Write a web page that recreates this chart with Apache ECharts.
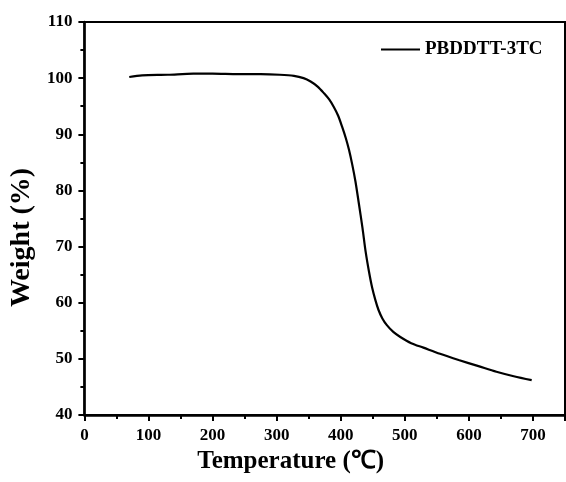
<!DOCTYPE html>
<html>
<head>
<meta charset="utf-8">
<script src="https://cdn.jsdelivr.net/npm/echarts@6/dist/echarts.min.js"></script>
<style>
  html, body { margin: 0; padding: 0; background: #fff; }
  #main { width: 566px; height: 482px; }
</style>
</head>
<body>
<div id="main"></div>
<script>
  // TGA curve
  var temperature = [70, 90, 130, 170, 200, 240, 275, 305, 327, 342, 353, 364, 374, 382, 389, 396, 402, 408, 413, 418, 423, 428, 434, 439, 444, 449, 454, 459, 465, 472, 482, 493, 510, 529, 555, 584, 615, 643, 670, 698];
  var weight = [100.2, 100.5, 100.6, 100.8, 100.8, 100.7, 100.7, 100.6, 100.4, 100.0, 99.4, 98.5, 97.3, 96.2, 94.9, 93.3, 91.4, 89.3, 87.2, 84.6, 81.6, 77.9, 73.3, 69.0, 65.6, 62.7, 60.5, 58.7, 57.2, 56.0, 54.8, 53.9, 52.8, 52.0, 50.9, 49.8, 48.7, 47.7, 46.9, 46.2];
  var seriesName = 'PBDDTT-3TC';

  var points = [];
  for (var i = 0; i < temperature.length; i++) {
    points.push([temperature[i], weight[i]]);
  }

  var chart = echarts.init(document.getElementById('main'));
  var font = '"Liberation Serif", "Times New Roman", serif';

  var option = {
    backgroundColor: '#fff',
    animation: false,
    textStyle: { fontFamily: font },
    grid: {
      left: 83, top: 22, right: 1, bottom: 67,
      show: true, borderColor: '#000', borderWidth: 2
    },
    legend: {
      left: 376, top: 35,
      itemWidth: 39, itemHeight: 14, itemGap: 0,
      textStyle: { fontFamily: font, fontWeight: 'bold', fontSize: 19, color: '#000' },
      data: [{ name: seriesName, icon: 'path://M0,6L40,6L40,8L0,8Z' }]
    },
    xAxis: {
      type: 'value', min: 0, max: 750, interval: 100,
      name: 'Temperature (℃)', nameLocation: 'middle', nameGap: 33,
      nameTextStyle: { fontFamily: font, fontWeight: 'bold', fontSize: 25, color: '#000', padding: [0, 68, 0, 0] },
      axisLine: { lineStyle: { color: '#000', width: 2.5 } },
      axisTick: { inside: false, length: 6, lineStyle: { color: '#000', width: 2 } },
      minorTick: { show: true, splitNumber: 2, length: 4, lineStyle: { color: '#000', width: 2 } },
      axisLabel: { fontFamily: font, fontWeight: 'bold', fontSize: 17, color: '#000', margin: 12, showMaxLabel: false },
      splitLine: { show: false }
    },
    yAxis: {
      type: 'value', min: 40, max: 110, interval: 10,
      name: 'Weight (%)', nameLocation: 'middle', nameGap: 42,
      nameTextStyle: { fontFamily: font, fontWeight: 'bold', fontSize: 28, color: '#000', padding: [0, 38, 0, 0] },
      axisLine: { lineStyle: { color: '#000', width: 2.5 } },
      axisTick: { inside: false, length: 6, lineStyle: { color: '#000', width: 2 } },
      minorTick: { show: true, splitNumber: 2, length: 4, lineStyle: { color: '#000', width: 2 } },
      axisLabel: { fontFamily: font, fontWeight: 'bold', fontSize: 17, color: '#000', margin: 12 },
      splitLine: { show: false }
    },
    series: [{
      name: seriesName,
      type: 'line',
      data: points,
      showSymbol: false,
      smooth: 0.3,
      lineStyle: { color: '#000', width: 2.2 },
      itemStyle: { color: '#000' }
    }]
  };

  chart.setOption(option);
</script>
</body>
</html>
